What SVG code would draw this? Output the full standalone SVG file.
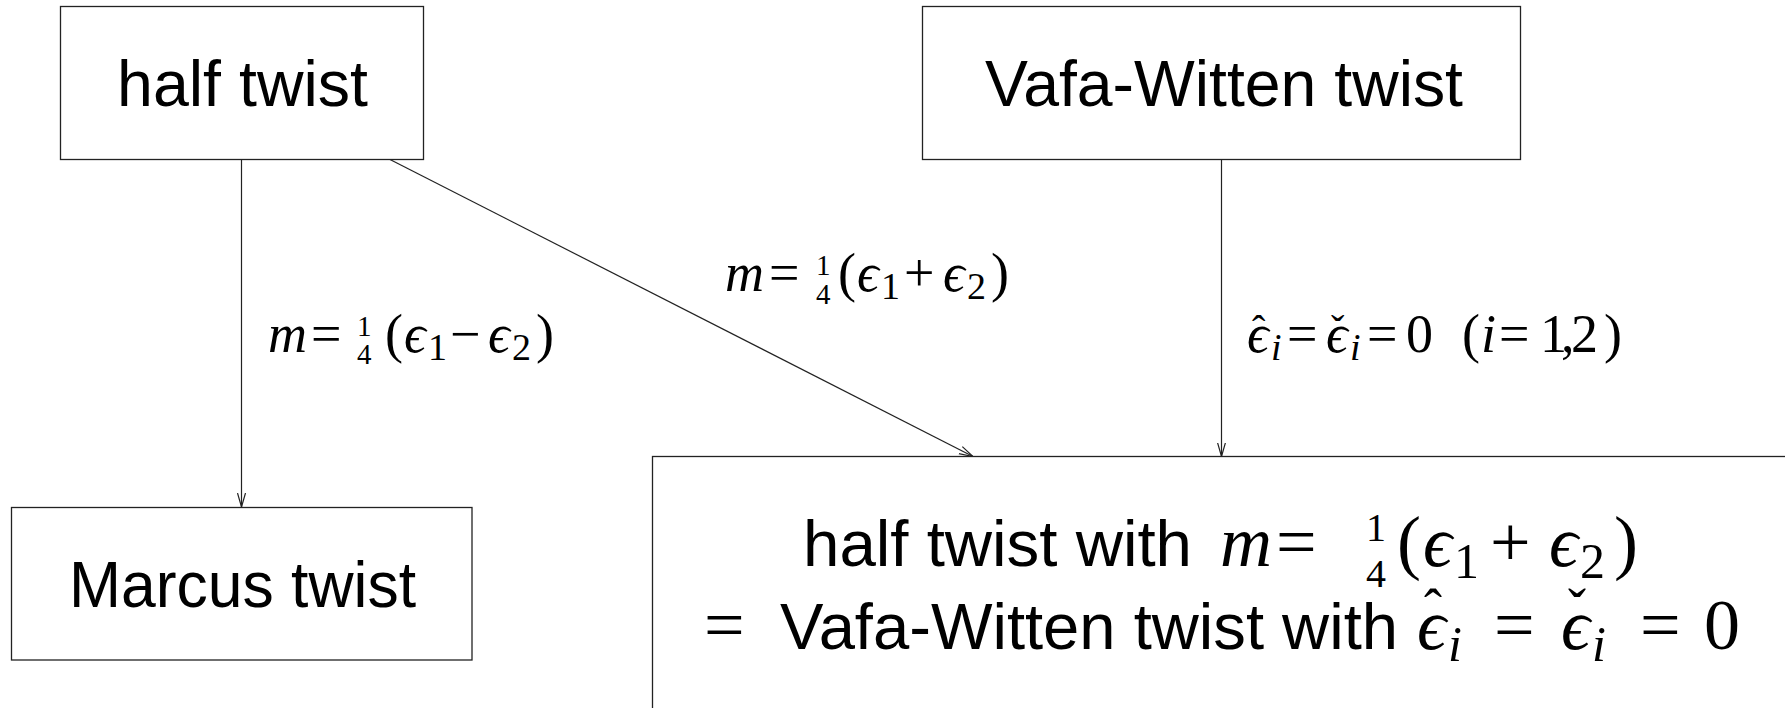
<svg xmlns="http://www.w3.org/2000/svg" width="1785" height="708" viewBox="0 0 1785 708">
<style>
.box{fill:#fff;stroke:#222;stroke-width:1.3}
.edge{fill:none;stroke:#222;stroke-width:1.2}
.sans{font-family:"Liberation Sans","DejaVu Sans",sans-serif;font-size:65px;fill:#000}
.m{font-family:"Liberation Serif","DejaVu Serif",serif;fill:#000}
.it{font-style:italic}
</style>
<defs>
<marker id="arr" viewBox="0 0 14 10" refX="14" refY="5" markerWidth="14" markerHeight="10" markerUnits="userSpaceOnUse" orient="auto">
<path d="M0,1 L14,5 L0,9" fill="none" stroke="#222" stroke-width="1.2"/>
</marker>
</defs>
<rect width="1785" height="708" fill="#fff"/>
<g id="connectors">
<line class="edge" x1="241.5" y1="159.5" x2="241.5" y2="507" marker-end="url(#arr)"/>
<line class="edge" x1="390" y1="159.5" x2="973" y2="456.5" marker-end="url(#arr)"/>
<line class="edge" x1="1221.5" y1="159.5" x2="1221.5" y2="456.5" marker-end="url(#arr)"/>
<text id="label-marcus" class="m" font-size="54"><tspan x="268" y="352" class="it">m</tspan><tspan x="311" y="352">=</tspan><tspan x="357" y="336" font-size="29">1</tspan><tspan x="357" y="364" font-size="29">4</tspan><tspan x="385" y="352">(</tspan><tspan x="404" y="352" class="it">ϵ</tspan><tspan x="428" y="360" font-size="38">1</tspan><tspan x="450" y="352">−</tspan><tspan x="488" y="352" class="it">ϵ</tspan><tspan x="512" y="360" font-size="38">2</tspan><tspan x="536" y="352">)</tspan></text>
<text id="label-diag" class="m" font-size="54"><tspan x="725" y="291" class="it">m</tspan><tspan x="769" y="291">=</tspan><tspan x="816" y="275" font-size="29">1</tspan><tspan x="816" y="304" font-size="29">4</tspan><tspan x="838" y="291">(</tspan><tspan x="857" y="291" class="it">ϵ</tspan><tspan x="881" y="299" font-size="38">1</tspan><tspan x="904" y="291">+</tspan><tspan x="943" y="291" class="it">ϵ</tspan><tspan x="967" y="299" font-size="38">2</tspan><tspan x="991" y="291">)</tspan></text>
<text id="label-vw" class="m" font-size="54"><tspan x="1247" y="352" class="it">ϵ</tspan><tspan x="1252" y="343" font-size="40">ˆ</tspan><tspan x="1271" y="360" font-size="38" class="it">i</tspan><tspan x="1287" y="352">=</tspan><tspan x="1326" y="352" class="it">ϵ</tspan><tspan x="1331" y="343" font-size="40">ˇ</tspan><tspan x="1350" y="360" font-size="38" class="it">i</tspan><tspan x="1367" y="352">=</tspan><tspan x="1406" y="352">0</tspan><tspan x="1462" y="352">(</tspan><tspan x="1481" y="352" class="it">i</tspan><tspan x="1499" y="352">=</tspan><tspan x="1540" y="352">1</tspan><tspan x="1561" y="352">,</tspan><tspan x="1571" y="352">2</tspan><tspan x="1604" y="352">)</tspan></text>
</g>
<g id="node-half">
<rect class="box" x="60.5" y="6.5" width="363" height="153"/>
<text class="sans" x="242.5" y="106" text-anchor="middle" textLength="251" lengthAdjust="spacingAndGlyphs">half twist</text>
</g>
<g id="node-vw">
<rect class="box" x="922.5" y="6.5" width="598" height="153"/>
<text class="sans" x="1224" y="106" text-anchor="middle" textLength="478" lengthAdjust="spacingAndGlyphs">Vafa-Witten twist</text>
</g>
<g id="node-marcus">
<rect class="box" x="11.5" y="507.5" width="460.5" height="152.5"/>
<text class="sans" x="242.5" y="607" text-anchor="middle" textLength="347" lengthAdjust="spacingAndGlyphs">Marcus twist</text>
</g>
<g id="node-result">
<rect class="box" x="652.5" y="456.5" width="1200" height="400"/>
<text class="sans" x="803" y="566" textLength="389" lengthAdjust="spacingAndGlyphs">half twist with</text>
<text class="m" font-size="72"><tspan x="1220" y="566" class="it">m</tspan><tspan x="1276" y="566">=</tspan><tspan x="1366" y="541" font-size="40">1</tspan><tspan x="1366" y="587" font-size="40">4</tspan><tspan x="1397" y="566">(</tspan><tspan x="1423" y="566" class="it">ϵ</tspan><tspan x="1454" y="578" font-size="50">1</tspan><tspan x="1490" y="566">+</tspan><tspan x="1549" y="566" class="it">ϵ</tspan><tspan x="1580" y="578" font-size="50">2</tspan><tspan x="1614" y="566">)</tspan></text>
<text class="m" font-size="72" x="704" y="649">=</text>
<text class="sans" x="780" y="649" textLength="618" lengthAdjust="spacingAndGlyphs">Vafa-Witten twist with</text>
<text class="m" font-size="72"><tspan x="1417" y="649" class="it">ϵ</tspan><tspan x="1424" y="627" font-size="54">ˆ</tspan><tspan x="1448" y="661" font-size="50" class="it">i</tspan><tspan x="1494" y="649">=</tspan><tspan x="1561" y="649" class="it">ϵ</tspan><tspan x="1568" y="627" font-size="54">ˇ</tspan><tspan x="1592" y="661" font-size="50" class="it">i</tspan><tspan x="1640" y="649">=</tspan><tspan x="1704" y="649">0</tspan></text>
</g>
</svg>
